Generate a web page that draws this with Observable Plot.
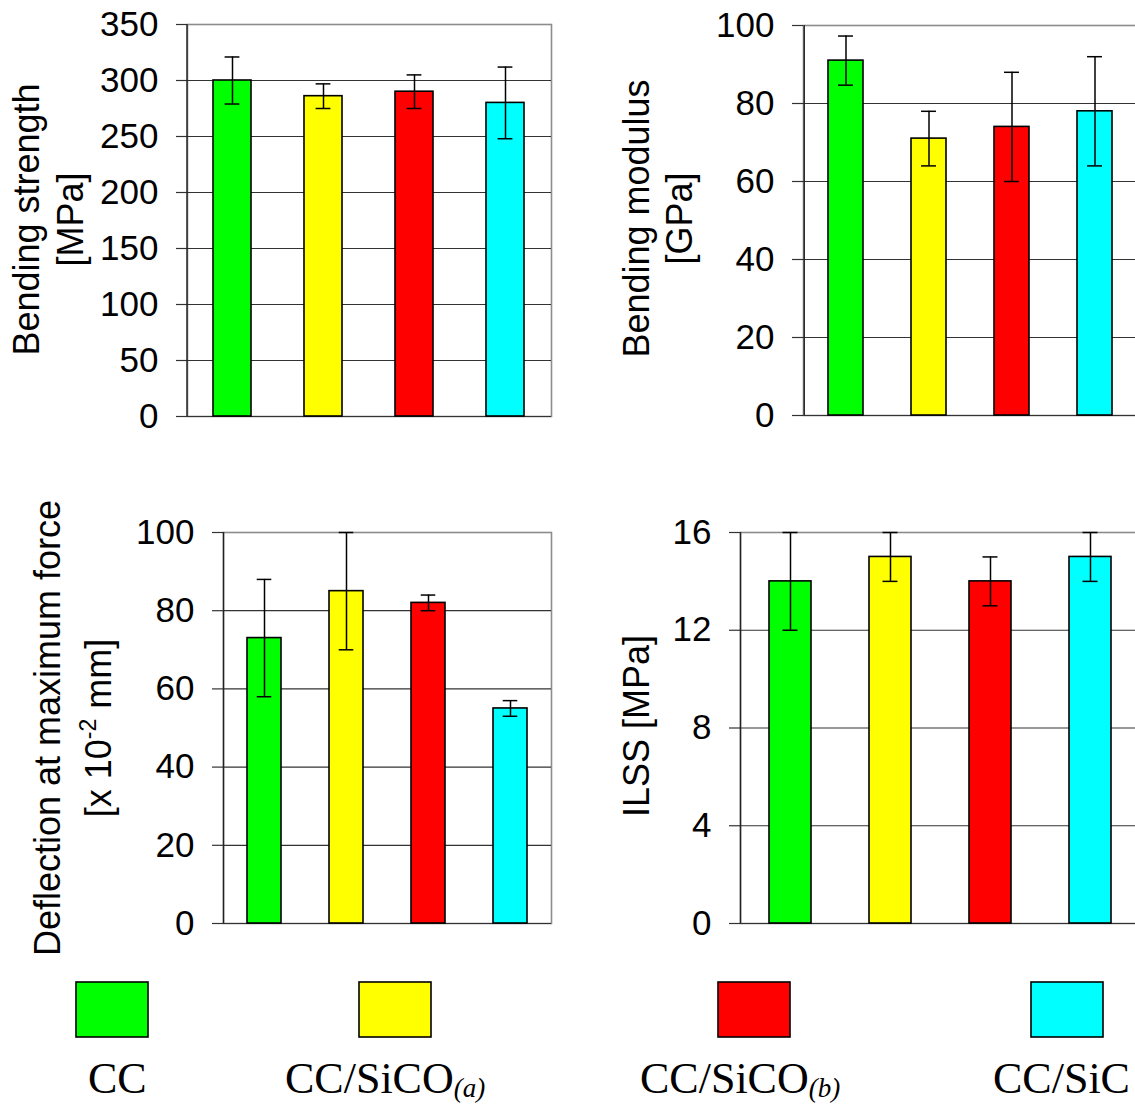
<!DOCTYPE html>
<html>
<head>
<meta charset="utf-8">
<script src="https://cdn.jsdelivr.net/npm/d3@7"></script>
<script src="https://cdn.jsdelivr.net/npm/@observablehq/plot@0.6"></script>
<style>
  html, body { margin: 0; padding: 0; background: #fff; overflow: hidden; }
  #root { position: relative; width: 1135px; height: 1104px; overflow: hidden; background: #fff; }
  .panel { position: absolute; }
  .panel svg { overflow: visible; max-width: none !important; }
</style>
</head>
<body>
<div id="root"></div>
<script>
// ---- data ----
const categories = ["CC", "CC/SiCO(a)", "CC/SiCO(b)", "CC/SiC"];
const barColors = ["#00ff00", "#ffff00", "#ff0000", "#00ffff"];

const strengthValues = [300, 286, 290, 280];
const strengthErrors = [21, 11, 15, 32];
const strengthTicks = [0, 50, 100, 150, 200, 250, 300, 350];

const modulusValues = [91, 71, 74, 78];
const modulusErrors = [6.3, 7, 14, 14];
const modulusTicks = [0, 20, 40, 60, 80, 100];

const deflectionValues = [73, 85, 82, 55];
const deflectionErrors = [15, 15, 2, 2];
const deflectionTicks = [0, 20, 40, 60, 80, 100];

const ilssValues = [14, 15, 14, 15];
const ilssErrors = [2, 1, 1, 1];
const ilssTicks = [0, 4, 8, 12, 16];

const legendMain = ["CC", "CC/SiCO", "CC/SiCO", "CC/SiC"];
const legendSub = ["", "(a)", "(b)", ""];

// ---- drawing ----
const root = document.getElementById("root");
const PAD = 0.58;

function panel(o) {
  const rows = categories.map((c, i) => ({
    cat: c, v: o.values[i],
    lo: o.values[i] - o.errors[i], hi: o.values[i] + o.errors[i],
    fill: barColors[i]
  }));
  const ymax = o.ticks[o.ticks.length - 1];
  const step = (o.width - o.ml - o.mr) / categories.length;
  const bw = step * (1 - PAD);
  const inset = Math.max(0, (bw - 15) / 2);
  const marks = [
    Plot.frame({stroke: "#8c8c8c", strokeWidth: 1.6}),
    Plot.ruleY(o.ticks.slice(0, -1), {stroke: "#333", strokeWidth: 1.2}),
    Plot.axisY({ticks: o.ticks, tickSize: 11, tickPadding: 18, tickFormat: d => String(d), label: null, stroke: "#333", strokeWidth: 1.2, fontSize: 35}),
    Plot.barY(rows, {x: "cat", y: "v", fill: "fill", stroke: "#000", strokeWidth: 1.6}),
    Plot.ruleX(rows, {x: "cat", y1: "lo", y2: "hi", stroke: "#000", strokeWidth: 1.5}),
    Plot.tickY(rows, {x: "cat", y: "hi", insetLeft: inset, insetRight: inset, stroke: "#000", strokeWidth: 1.5}),
    Plot.tickY(rows, {x: "cat", y: "lo", insetLeft: inset, insetRight: inset, stroke: "#000", strokeWidth: 1.5}),
    Plot.ruleX([categories[0]], {dx: -step / 2, stroke: "#222", strokeWidth: 1.4}),
    ...o.labels.map(l => Plot.text([l.text], {
      text: d => d, frameAnchor: "left", rotate: -90, lineAnchor: "bottom",
      textAnchor: "middle", dx: l.dx, dy: l.dy || 0, fontSize: 36, fill: "#000"
    }))
  ];
  const svg = Plot.plot({
    width: o.width, height: o.height,
    marginLeft: o.ml, marginRight: o.mr, marginTop: o.mt, marginBottom: o.mb,
    x: {type: "band", domain: categories, paddingInner: PAD, paddingOuter: PAD / 2, axis: null},
    y: {domain: [0, ymax]},
    color: {type: "identity"},
    style: {fontFamily: "'Liberation Sans', Arial, sans-serif", fontSize: "35px", color: "#000", background: "transparent", maxWidth: "none"},
    marks
  });
  svg.style.maxWidth = "none";
  svg.style.width = o.width + "px";
  svg.style.height = o.height + "px";
  const div = document.createElement("div");
  div.className = "panel";
  div.style.left = o.left + "px";
  div.style.top = o.top + "px";
  div.style.width = o.width + "px";
  div.style.height = o.height + "px";
  div.appendChild(svg);
  root.appendChild(div);
  return svg;
}

panel({
  values: strengthValues, errors: strengthErrors, ticks: strengthTicks,
  left: 0, top: 0, width: 560, height: 440, ml: 187, mr: 9, mt: 24, mb: 24,
  labels: [{text: "Bending strength", dx: -149, dy: -1}, {text: "[MPa]", dx: -105, dy: -1}]
});

panel({
  values: modulusValues, errors: modulusErrors, ticks: modulusTicks,
  left: 575, top: 0, width: 566, height: 440, ml: 228, mr: 4, mt: 25, mb: 25,
  labels: [{text: "Bending modulus", dx: -155, dy: -2}, {text: "[GPa]", dx: -112, dy: -2}]
});

const defSvg = panel({
  values: deflectionValues, errors: deflectionErrors, ticks: deflectionTicks,
  left: 0, top: 490, width: 560, height: 470, ml: 223, mr: 9, mt: 42, mb: 37,
  labels: [{text: "Deflection at maximum force", dx: -164}, {text: "[x 10-2 mm]", dx: -113}]
});
d3.select(defSvg).selectAll("text")
  .filter(function() { return this.textContent === "[x 10-2 mm]"; })
  .each(function() {
    const t = d3.select(this);
    t.selectAll("*").remove();
    t.text(null);
    t.append("tspan").text("[x 10");
    t.append("tspan").attr("dy", -15).attr("font-size", 23).text("-2");
    t.append("tspan").attr("dy", 15).text(" mm]");
  });

panel({
  values: ilssValues, errors: ilssErrors, ticks: ilssTicks,
  left: 575, top: 490, width: 570, height: 470, ml: 165, mr: 5, mt: 42, mb: 37,
  labels: [{text: "ILSS [MPa]", dx: -92, dy: -2}]
});

// ---- legend ----
const legendBoxX = [76, 359, 718, 1031];
const legendTextX = [88, 285, 640, 993];
const lg = d3.select(root).append("svg")
  .attr("width", 1135).attr("height", 164)
  .style("position", "absolute").style("left", "0px").style("top", "940px");
categories.forEach((c, i) => {
  lg.append("rect").attr("x", legendBoxX[i]).attr("y", 42).attr("width", 72).attr("height", 55)
    .attr("fill", barColors[i]).attr("stroke", "#000").attr("stroke-width", 1.6);
  const t = lg.append("text").attr("x", legendTextX[i]).attr("y", 153)
    .attr("font-family", "'Liberation Serif', 'Times New Roman', serif").attr("font-size", 44).attr("fill", "#000");
  t.append("tspan").text(legendMain[i]);
  if (legendSub[i]) {
    t.append("tspan").attr("dy", 4).attr("font-size", 27).attr("font-style", "italic").text(legendSub[i]);
  }
});
</script>
</body>
</html>
